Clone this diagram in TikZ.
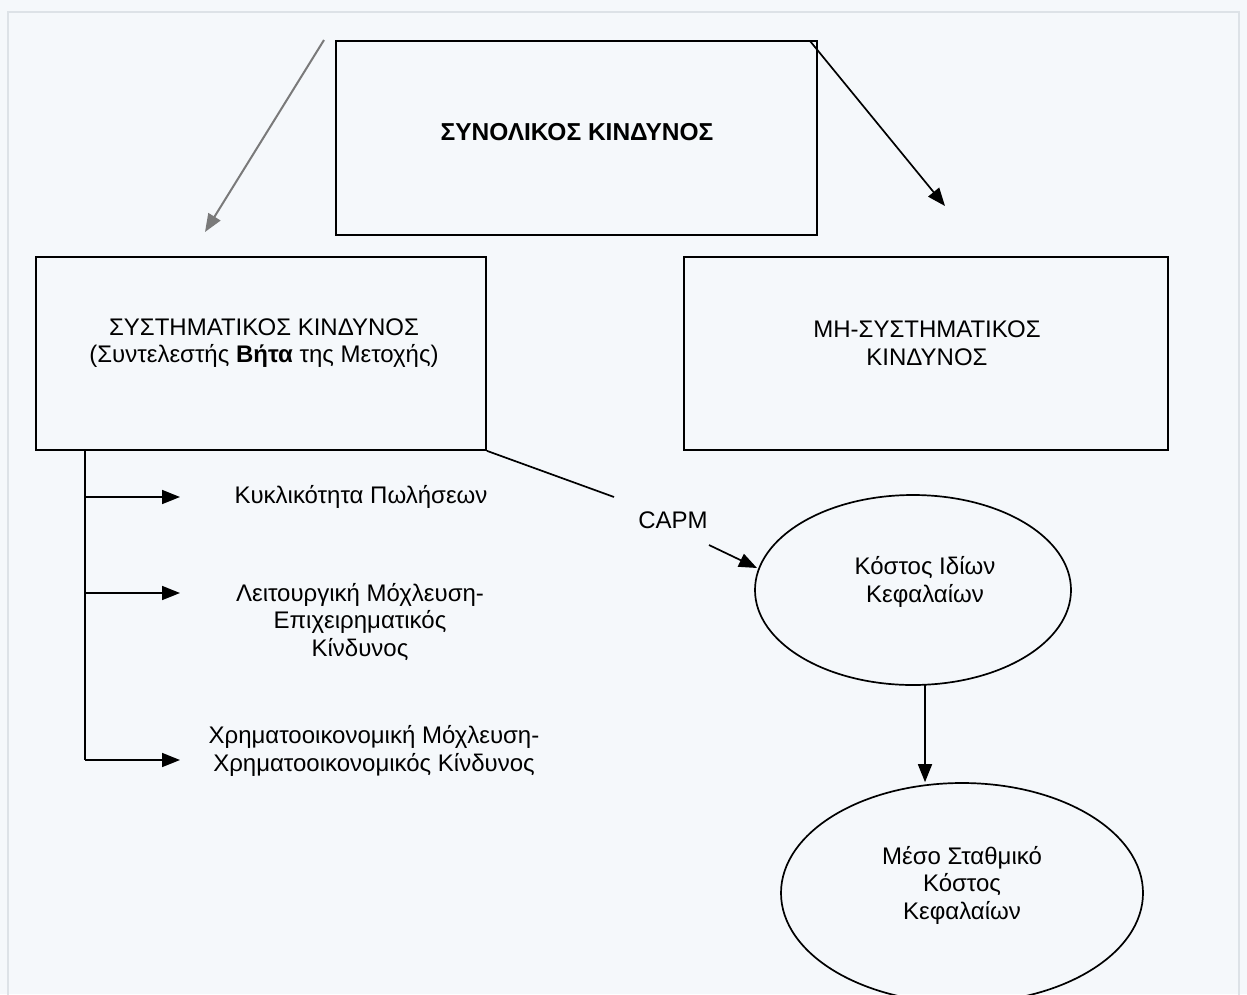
\documentclass[tikz,border=0pt]{standalone}
\usepackage{fontspec}
\setmainfont{Liberation Sans}
\usetikzlibrary{arrows.meta,shapes.geometric}
\definecolor{bgc}{HTML}{F5F8FB}
\definecolor{grayline}{HTML}{7A7A7A}
\definecolor{edgec}{HTML}{DDE2E7}
\begin{document}
\begin{tikzpicture}[x=1pt,y=-1pt,
  txt/.style={font=\fontsize{24}{27.5}\selectfont,align=center,inner sep=0pt},
  boxn/.style={draw,line width=1.8pt,inner sep=0pt,anchor=north west},
  elln/.style={draw,ellipse,line width=1.7pt,inner sep=0pt},
  tip/.style={-{Triangle[length=18pt,width=14pt]}},
  ln/.style={line width=1.7pt}]
\fill[bgc] (0,0) rectangle (1247,994);
\useasboundingbox (0,0) rectangle (1247,994);
\draw[edgec,line width=1.5pt] (8,1000) -- (8,12) -- (1239,12) -- (1239,1000);
% boxes
\node[boxn,minimum width=481pt,minimum height=194pt] (top) at (335,40) {};
\node[txt,font=\fontsize{24.5}{27.5}\selectfont\bfseries] (toptxt) at (577,132) {ΣΥΝΟΛΙΚΟΣ ΚΙΝΔΥΝΟΣ};
\node[boxn,minimum width=450pt,minimum height=193pt] (sys) at (35,256) {};
\node[txt] (systxt) at (264,343) {ΣΥΣΤΗΜΑΤΙΚΟΣ ΚΙΝΔΥΝΟΣ\\(Συντελεστής \textbf{Βήτα} της Μετοχής)};
\node[boxn,minimum width=484pt,minimum height=193pt] (nsys) at (683,256) {};
\node[txt] (nsystxt) at (927,343) {ΜΗ-ΣΥΣΤΗΜΑΤΙΚΟΣ\\ΚΙΝΔΥΝΟΣ};
% ellipses
\node[elln,minimum width=316pt,minimum height=190pt] (ke) at (913,590) {};
\node[txt] (ketxt) at (925,582) {Κόστος Ιδίων\\Κεφαλαίων};
\node[elln,minimum width=362pt,minimum height=220pt] (wacc) at (962,893) {};
\node[txt] (wacctxt) at (962,885) {Μέσο Σταθμικό\\Κόστος\\Κεφαλαίων};
% branch texts
\node[txt] (b1) at (361,497) {Κυκλικότητα Πωλήσεων};
\node[txt] (b2) at (360,622) {Λειτουργική Μόχλευση-\\Επιχειρηματικός\\Κίνδυνος};
\node[txt] (b3) at (374,751) {Χρηματοοικονομική Μόχλευση-\\Χρηματοοικονομικός Κίνδυνος};
\node[txt] (capm) at (673,520) {CAPM};
% coordinates
\coordinate (a1s) at (324,40);
\coordinate (a1e) at (205,232);
\coordinate (a2s) at (810,41);
\coordinate (a2e) at (945,206);
\coordinate (trunk) at (85,449);
\coordinate (j1) at (85,497);
\coordinate (j2) at (85,593);
\coordinate (j3) at (85,760);
\coordinate (t1) at (180,497);
\coordinate (t2) at (180,593);
\coordinate (t3) at (180,760);
\coordinate (c1) at (614,497);
\coordinate (c2) at (709,545);
\coordinate (c3) at (757,568);
\coordinate (kb) at (925,685);
% connectors
\draw[tip,grayline,line width=2pt] (a1s) -- (a1e);
\draw[tip,ln] (a2s) -- (a2e);
\draw[ln] (trunk) -- (j3);
\draw[tip,ln] (j1) -- (t1);
\draw[tip,ln] (j2) -- (t2);
\draw[tip,ln] (j3) -- (t3);
\draw[ln] (sys.south east) -- (c1);
\draw[tip,ln] (c2) -- (c3);
\draw[tip,ln] (kb) -- (kb |- wacc.north);
\end{tikzpicture}
\end{document}
